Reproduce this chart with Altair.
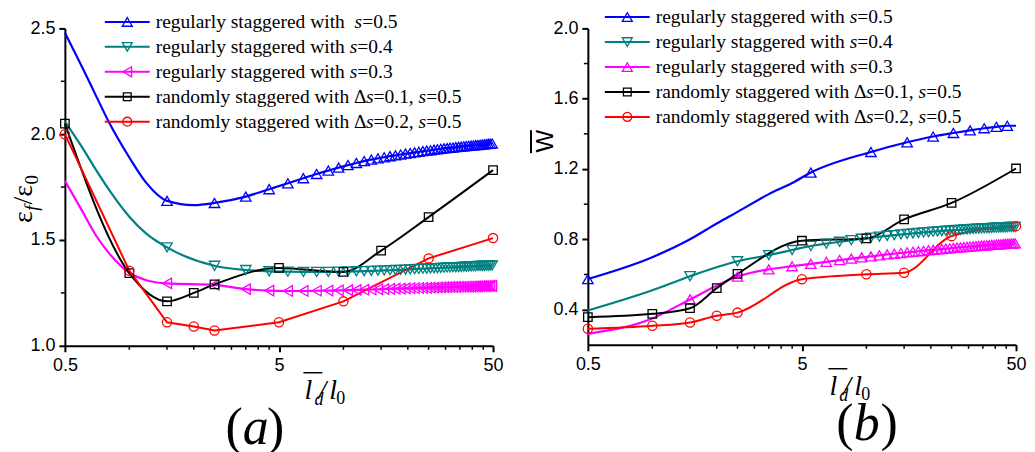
import altair as alt
import pandas as pd

# ---------------- values ----------------
# x positions of the regularly staggered results (markers)
X_REG = [1.5, 2.5, 3.5, 4.5, 5.5, 6.5, 7.5, 8.5, 9.5, 10.5,
         11.5, 12.5, 13.5, 14.5, 15.5, 16.5, 17.5, 18.5, 19.5, 20.5,
         21.5, 22.5, 23.5, 24.5, 25.5, 26.5, 27.5, 28.5, 29.5, 30.5,
         31.5, 32.5, 33.5, 34.5, 35.5, 36.5, 37.5, 38.5, 39.5, 40.5,
         41.5, 42.5, 43.5, 44.5, 45.5, 46.5, 47.5, 48.5, 49.5]

# panel (a): eps_f / eps_0
A_HEAD_X = [0.5, 0.6, 0.7, 0.8, 1.0, 1.2]
A_S05_HEAD = [2.48, 2.32, 2.18, 2.06, 1.89, 1.77]
A_S04_HEAD = [2.06, 1.94, 1.83, 1.74, 1.61, 1.53]
A_S03_HEAD = [1.78, 1.64, 1.52, 1.44, 1.345, 1.31]
A_S05_MID_X = [2.0]
A_S05_MID = [1.665]
A_S05 = [1.685, 1.675, 1.705, 1.740, 1.768, 1.792, 1.812, 1.828, 1.842, 1.854,
         1.864, 1.873, 1.880, 1.886, 1.891, 1.896, 1.900, 1.904, 1.908, 1.911,
         1.914, 1.917, 1.920, 1.922, 1.924, 1.927, 1.929, 1.931, 1.933, 1.934,
         1.936, 1.937, 1.939, 1.940, 1.941, 1.943, 1.944, 1.945, 1.946, 1.947,
         1.948, 1.949, 1.950, 1.951, 1.952, 1.953, 1.954, 1.955, 1.956]
A_S04 = [1.465, 1.378, 1.358, 1.352, 1.350, 1.349, 1.349, 1.349, 1.350, 1.351,
         1.352, 1.353, 1.354, 1.355, 1.356, 1.357, 1.358, 1.359, 1.360, 1.361,
         1.362, 1.363, 1.364, 1.365, 1.366, 1.367, 1.367, 1.368, 1.369, 1.370,
         1.370, 1.371, 1.372, 1.372, 1.373, 1.374, 1.374, 1.375, 1.375, 1.376,
         1.376, 1.377, 1.377, 1.378, 1.378, 1.379, 1.379, 1.380, 1.380]
A_S03 = [1.295, 1.288, 1.268, 1.261, 1.259, 1.259, 1.260, 1.261, 1.262, 1.263,
         1.264, 1.265, 1.266, 1.267, 1.268, 1.269, 1.270, 1.270, 1.271, 1.272,
         1.272, 1.273, 1.274, 1.274, 1.275, 1.275, 1.276, 1.276, 1.277, 1.277,
         1.278, 1.278, 1.278, 1.279, 1.279, 1.279, 1.280, 1.280, 1.280, 1.281,
         1.281, 1.281, 1.282, 1.282, 1.282, 1.282, 1.283, 1.283, 1.283]
A_D01_X = [0.5, 1.0, 1.5, 2.0, 2.5, 5, 10, 15, 25, 50]
A_D01_Y = [2.05, 1.343, 1.21, 1.25, 1.29, 1.368, 1.349, 1.45, 1.608, 1.83]
A_D02_X = [0.5, 1.0, 1.5, 2.0, 2.5, 5, 10, 25, 50]
A_D02_Y = [2.0, 1.355, 1.111, 1.091, 1.072, 1.111, 1.21, 1.413, 1.509]

# panel (b): W
B_S05_X = [0.5, 1.0, 1.5, 2.0, 2.5, 3.5, 4.5, 5.5, 10.5, 15.5, 20.5, 25.5,
           30.5, 35.5, 40.5, 45.5, 50]
B_S05_Y = [0.574, 0.698, 0.80, 0.89, 0.956, 1.057, 1.12, 1.18, 1.297, 1.352,
           1.385, 1.405, 1.42, 1.432, 1.44, 1.446, 1.446]
B_S05_MARK_X = [0.5, 5.5, 10.5, 15.5, 20.5, 25.5, 30.5, 35.5, 40.5, 45.5]
B_HEAD_X = [0.5, 1.0]
B_S04_HEAD = [0.395, 0.51]
B_S03_HEAD = [0.262, 0.35]
B_S04 = [0.590, 0.675, 0.710, 0.739, 0.762, 0.775, 0.786, 0.795, 0.803, 0.809,
         0.815, 0.820, 0.824, 0.828, 0.831, 0.834, 0.837, 0.839, 0.841, 0.843,
         0.845, 0.847, 0.849, 0.850, 0.852, 0.853, 0.854, 0.856, 0.857, 0.858,
         0.859, 0.860, 0.861, 0.862, 0.863, 0.864, 0.864, 0.865, 0.866, 0.866,
         0.867, 0.868, 0.868, 0.869, 0.869, 0.870, 0.870, 0.871, 0.871]
B_S03 = [0.458, 0.588, 0.629, 0.647, 0.660, 0.672, 0.682, 0.690, 0.697, 0.703,
         0.709, 0.714, 0.718, 0.722, 0.726, 0.729, 0.732, 0.735, 0.738, 0.740,
         0.743, 0.745, 0.747, 0.749, 0.751, 0.753, 0.754, 0.756, 0.757, 0.759,
         0.760, 0.761, 0.763, 0.764, 0.765, 0.766, 0.767, 0.768, 0.769, 0.770,
         0.771, 0.772, 0.773, 0.774, 0.774, 0.775, 0.776, 0.776, 0.777]
B_RAND_X = [0.5, 1.0, 1.5, 2.0, 2.5, 5, 10, 15, 25, 50]
B_D01_Y = [0.357, 0.376, 0.408, 0.522, 0.603, 0.792, 0.805, 0.913, 1.007, 1.203]
B_D02_Y = [0.291, 0.308, 0.327, 0.365, 0.383, 0.573, 0.601, 0.61, 0.818, 0.875]

# axis ticks
X_MAJOR = [0.5, 5, 50]
X_MINOR = [1, 1.5, 2, 2.5, 3, 3.5, 4, 4.5, 10, 15, 20, 25, 30, 35, 40, 45]
A_Y_MAJOR = [1.0, 1.5, 2.0, 2.5]
A_Y_MINOR = [1.25, 1.75, 2.25]
B_Y_MAJOR = [0.4, 0.8, 1.2, 1.6, 2.0]
B_Y_MINOR = [0.6, 1.0, 1.4, 1.8]

# legend labels: (text, italic)
LEG_A = [
    [("regularly staggered with  ", False), ("s", True), ("=0.5", False)],
    [("regularly staggered with ", False), ("s", True), ("=0.4", False)],
    [("regularly staggered with ", False), ("s", True), ("=0.3", False)],
    [("randomly staggered with \u0394", False), ("s", True), ("=0.1, ", False), ("s", True), ("=0.5", False)],
    [("randomly staggered with \u0394", False), ("s", True), ("=0.2, ", False), ("s", True), ("=0.5", False)],
]
LEG_B = [
    [("regularly staggered with ", False), ("s", True), ("=0.5", False)],
    [("regularly staggered with ", False), ("s", True), ("=0.4", False)],
    [("regularly staggered with ", False), ("s", True), ("=0.3", False)],
    [("randomly staggered with \u0394", False), ("s", True), ("=0.1, ", False), ("s", True), ("=0.5", False)],
    [("randomly staggered with \u0394", False), ("s", True), ("=0.2, ", False), ("s", True), ("=0.5", False)],
]

# ---------------- styling ----------------
BLUE, TEAL, MAG, BLACK, RED = "#0000FF", "#008080", "#FF00FF", "#000000", "#FF0000"
SERIF = "Liberation Serif"
SANS = "Liberation Sans"
TIMES_W = {'r': 333, 'e': 444, 'g': 500, 'u': 500, 'l': 278, 'a': 444, 'y': 500,
           ' ': 250, 's': 389, 't': 278, 'd': 500, 'w': 722, 'i': 278, 'h': 500,
           'n': 500, 'o': 500, 'm': 778, '=': 564, '0': 500, '.': 250, '5': 500,
           '4': 500, '3': 500, '1': 500, '2': 500, ',': 250, '\u0394': 612,
           'f': 278, '/': 278, '\u03b5': 439, '(': 333, ')': 333, 'b': 500}


def tw(s, fs):
    return sum(TIMES_W.get(c, 500) for c in s) * fs / 1000.0


ONE = pd.DataFrame({"k": [0]})


def txt(x, y, s, size, italic=False, font=SERIF, align="left", baseline="middle", angle=None):
    props = dict(text=s, font=font, fontSize=size, align=align, baseline=baseline, color="black")
    if italic:
        props["fontStyle"] = "italic"
    if angle is not None:
        props["angle"] = angle
    return alt.Chart(ONE).mark_text(**props).encode(x=alt.value(x), y=alt.value(y))


def rule(x, y, x2, y2, width=1.5, color="black"):
    return alt.Chart(ONE).mark_rule(color=color, strokeWidth=width).encode(
        x=alt.value(x), y=alt.value(y), x2=alt.value(x2), y2=alt.value(y2))


def panel(W, H, ydom, ymaj, ymin, series, legend, leg_syms, leg_x0, leg_y0, extras):
    xs = alt.Scale(type="log", domain=[0.5, 50], nice=False)
    ys = alt.Scale(domain=ydom, nice=False, zero=False)
    axis_common = dict(title=None, grid=False, domainColor="black", domainWidth=2,
                       tickColor="black", tickWidth=2, tickSize=6, labelFont=SANS,
                       labelFontSize=18, labelColor="black")
    xax = alt.Axis(values=X_MAJOR, format="~g", labelPadding=5, labelFlush=False, **axis_common)
    yax = alt.Axis(values=ymaj, format=".1f", labelPadding=4, **axis_common)
    X = lambda f="x": alt.X(f"{f}:Q", scale=xs, axis=xax)
    Y = lambda f="y": alt.Y(f"{f}:Q", scale=ys, axis=yax)

    layers = []
    # minor ticks
    layers.append(alt.Chart(pd.DataFrame({"v": X_MINOR})).mark_rule(color="black", strokeWidth=1.5)
                  .encode(x=X("v"), y=alt.value(H), y2=alt.value(H + 4)))
    layers.append(alt.Chart(pd.DataFrame({"v": ymin})).mark_rule(color="black", strokeWidth=1.5)
                  .encode(y=Y("v"), x=alt.value(0), x2=alt.value(-4)))
    for s in series:
        ldf = pd.DataFrame({"x": s["lx"], "y": s["ly"]})
        layers.append(alt.Chart(ldf).mark_line(color=s["c"], strokeWidth=s.get("w", 2),
                                                interpolate=s["interp"]).encode(x=X(), y=Y()))
    for s in series:
        mdf = pd.DataFrame({"x": s["mx"], "y": s["my"]})
        layers.append(alt.Chart(mdf).mark_point(shape=s["shape"], color=s["c"], filled=False,
                                                 size=s.get("size", 100), strokeWidth=1.3, opacity=1)
                      .encode(x=X(), y=Y()))
    # legend
    for i, (pieces, (c, shape, sz)) in enumerate(zip(legend, leg_syms)):
        yy = leg_y0 + 25 * i
        layers.append(rule(leg_x0, yy, leg_x0 + 45, yy, width=2, color=c))
        layers.append(alt.Chart(ONE).mark_point(shape=shape, color=c, filled=False, size=sz,
                                                strokeWidth=1.3, opacity=1)
                      .encode(x=alt.value(leg_x0 + 22.5), y=alt.value(yy)))
        xx = leg_x0 + 51
        for t, it in pieces:
            if t.strip():
                layers.append(txt(xx, yy, t.rstrip(), 19.5, italic=it))
            xx += tw(t, 19.5)
    layers.extend(extras)
    return alt.layer(*layers).properties(width=W, height=H)


def xtitle(x0, yb):
    # overline l_d / l_0
    return [
        rule(x0 - 1, yb - 26, x0 + 18, yb - 26, width=1.5),
        txt(x0, yb, "l", 28, italic=True, baseline="alphabetic"),
        txt(x0 + 10, yb + 6, "d", 18, italic=True, baseline="alphabetic"),
        txt(x0 + 14, yb, "/", 28, italic=True, baseline="alphabetic"),
        txt(x0 + 25, yb, "l", 28, italic=True, baseline="alphabetic"),
        txt(x0 + 32, yb + 5, "0", 18, baseline="alphabetic"),
    ]


def plabel(x0, yb, letter):
    fs = 52
    return [
        txt(x0, yb, "(", fs, baseline="alphabetic"),
        txt(x0 + tw("(", fs), yb, letter, fs, italic=True, baseline="alphabetic"),
        txt(x0 + tw("(", fs) + tw(letter, fs) + 1, yb, ")", fs, baseline="alphabetic"),
    ]


# panel (a)
WA, HA = 429, 318
a_s05_line = sorted(zip(A_HEAD_X + A_S05_MID_X + X_REG, A_S05_HEAD + A_S05_MID + A_S05))
a_series = [
    dict(lx=[p[0] for p in a_s05_line], ly=[p[1] for p in a_s05_line], mx=X_REG, my=A_S05,
         c=BLUE, shape="triangle-up", interp="monotone", w=2.2, size=110),
    dict(lx=A_HEAD_X + X_REG, ly=A_S04_HEAD + A_S04, mx=X_REG, my=A_S04, c=TEAL, shape="triangle-down", interp="monotone", w=2.2, size=110),
    dict(lx=A_HEAD_X + X_REG, ly=A_S03_HEAD + A_S03, mx=X_REG, my=A_S03, c=MAG, shape="triangle-left", interp="monotone", w=2.2, size=110),
    dict(lx=A_D01_X, ly=A_D01_Y, mx=A_D01_X, my=A_D01_Y, c=BLACK, shape="square", interp="monotone", size=72),
    dict(lx=A_D02_X, ly=A_D02_Y, mx=A_D02_X, my=A_D02_Y, c=RED, shape="circle", interp="linear", size=85),
]
a_syms = [(BLUE, "triangle-up", 100), (TEAL, "triangle-down", 100), (MAG, "triangle-left", 100),
          (BLACK, "square", 60), (RED, "circle", 80)]
ytitle_a = []
yb = 195
ytitle_a.append(txt(-33, yb, "\u03b5", 28, angle=270, baseline="alphabetic"))
yb -= tw("\u03b5", 28)
ytitle_a.append(txt(-27, yb, "f", 19, italic=True, angle=270, baseline="alphabetic"))
yb -= tw("f", 19) + 1
ytitle_a.append(txt(-33, yb, "/", 28, angle=270, baseline="alphabetic"))
yb -= tw("/", 28)
ytitle_a.append(txt(-33, yb, "\u03b5", 28, angle=270, baseline="alphabetic"))
yb -= tw("\u03b5", 28)
ytitle_a.append(txt(-27, yb, "0", 19, angle=270, baseline="alphabetic"))
left = panel(WA, HA, [1.0, 2.5], A_Y_MAJOR, A_Y_MINOR, a_series, LEG_A, a_syms, 40, -6.5,
             ytitle_a + xtitle(240, 371) + plabel(161, 416, "a"))

# panel (b)
WB, HB = 429, 317
b_series = [
    dict(lx=B_S05_X, ly=B_S05_Y, mx=B_S05_MARK_X, my=[B_S05_Y[B_S05_X.index(v)] for v in B_S05_MARK_X],
         c=BLUE, shape="triangle-up", interp="monotone", w=2.2, size=110),
    dict(lx=B_HEAD_X + X_REG, ly=B_S04_HEAD + B_S04, mx=X_REG, my=B_S04, c=TEAL, shape="triangle-down", interp="monotone", w=2.2, size=110),
    dict(lx=B_HEAD_X + X_REG, ly=B_S03_HEAD + B_S03, mx=X_REG, my=B_S03, c=MAG, shape="triangle-up", interp="monotone", w=2.2, size=110),
    dict(lx=B_RAND_X, ly=B_D01_Y, mx=B_RAND_X, my=B_D01_Y, c=BLACK, shape="square", interp="monotone", size=72),
    dict(lx=B_RAND_X, ly=B_D02_Y, mx=B_RAND_X, my=B_D02_Y, c=RED, shape="circle", interp="monotone", size=85),
]
b_syms = [(BLUE, "triangle-up", 100), (TEAL, "triangle-down", 100), (MAG, "triangle-up", 100),
          (BLACK, "square", 60), (RED, "circle", 80)]
ytitle_b = [
    txt(-35, 113, "W", 24, font=SANS, align="center", angle=270, baseline="alphabetic"),
    rule(-57, 102, -57, 125, width=2),
]
right = panel(WB, HB, [0.2, 2.0], B_Y_MAJOR, B_Y_MINOR, b_series, LEG_B, b_syms, 17, -11.3,
              ytitle_b + xtitle(242, 367) + plabel(249, 412, "b"))

chart = alt.hconcat(left, right, spacing=26).properties(
    padding={"left": 2, "top": -2, "right": 0, "bottom": 0}
).configure_view(stroke=None)

chart.save("out.html", embed_options={"renderer": "svg", "actions": False})
